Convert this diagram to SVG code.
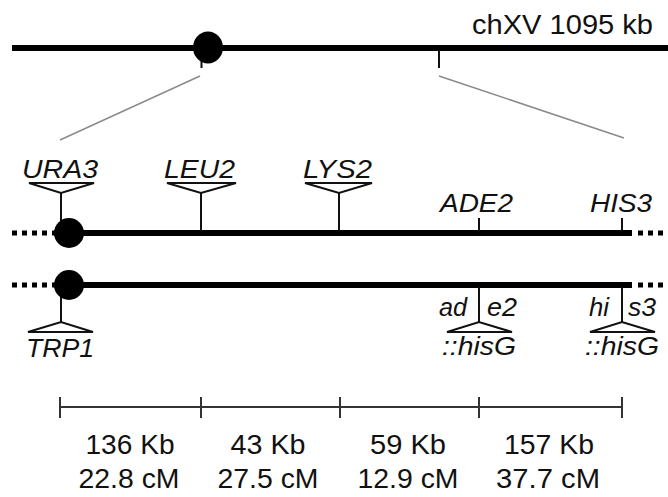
<svg xmlns="http://www.w3.org/2000/svg" width="668" height="497" viewBox="0 0 668 497">
<style>
.chr{stroke:#000;stroke-width:6;fill:none}
.dot{stroke:#000;stroke-width:5;stroke-dasharray:5 5;fill:none}
.stem{stroke:#111;stroke-width:2;fill:none}
.tri{stroke:#111;stroke-width:2;fill:#fff;stroke-linejoin:miter}
.zoom{stroke:#8a8a8a;stroke-width:1.5;fill:none}
.scale{stroke:#333;stroke-width:2;fill:none}
.cen{fill:#000}
text{font-family:"Liberation Sans",Arial,sans-serif;fill:#111}
.g{font-size:26px;font-style:italic}
.s{font-size:27px;text-anchor:middle}
.t{font-size:27px;text-anchor:end}
</style>
<rect width="668" height="497" fill="#fff"/>
<g id="chromosome-XV">
<line class="chr" x1="12" y1="48" x2="668" y2="48"/>
<line class="stem" x1="201.5" y1="50" x2="201.5" y2="68"/>
<line class="stem" x1="439" y1="50" x2="439" y2="68"/>
<ellipse class="cen" cx="208" cy="47.5" rx="15" ry="16"/>
<text class="t" x="653" y="34" textLength="181" lengthAdjust="spacingAndGlyphs">chXV 1095 kb</text>
</g>
<g id="zoom-lines">
<line class="zoom" x1="200" y1="76" x2="60" y2="140"/>
<line class="zoom" x1="439" y1="76" x2="624" y2="138"/>
</g>
<g id="strain-1">
<line class="dot" x1="12" y1="233" x2="60" y2="233"/>
<line class="chr" x1="62" y1="233" x2="632" y2="233"/>
<line class="dot" x1="638" y1="233" x2="668" y2="233"/>
<line class="stem" x1="61" y1="193" x2="61" y2="233"/>
<circle class="cen" cx="69" cy="233" r="15"/>
</g>
<g id="strain-2">
<line class="dot" x1="12" y1="285" x2="60" y2="285"/>
<line class="chr" x1="62" y1="285" x2="632" y2="285"/>
<line class="dot" x1="638" y1="285" x2="668" y2="285"/>
<line class="stem" x1="61" y1="285" x2="61" y2="322"/>
<circle class="cen" cx="69" cy="285" r="15"/>
</g>
<g id="URA3">
<polygon class="tri" points="29,183 94,183 61,193"/>
<text class="g" x="22" y="178" textLength="76" lengthAdjust="spacingAndGlyphs">URA3</text>
</g>
<g id="LEU2">
<line class="stem" x1="201" y1="193" x2="201" y2="231"/>
<polygon class="tri" points="167,183 236,183 201,193"/>
<text class="g" x="164" y="178" textLength="71" lengthAdjust="spacingAndGlyphs">LEU2</text>
</g>
<g id="LYS2">
<line class="stem" x1="339" y1="193" x2="339" y2="231"/>
<polygon class="tri" points="305,183 372,183 339,193"/>
<text class="g" x="303" y="178" textLength="69" lengthAdjust="spacingAndGlyphs">LYS2</text>
</g>
<g id="ADE2">
<line class="stem" x1="479" y1="218" x2="479" y2="231"/>
<text class="g" x="440" y="212" textLength="73" lengthAdjust="spacingAndGlyphs">ADE2</text>
</g>
<g id="HIS3">
<line class="stem" x1="622" y1="218" x2="622" y2="231"/>
<text class="g" x="590" y="212" textLength="62" lengthAdjust="spacingAndGlyphs">HIS3</text>
</g>
<g id="TRP1">
<polygon class="tri" points="28,332 93,332 61,322"/>
<text class="g" x="26" y="357" textLength="68" lengthAdjust="spacingAndGlyphs">TRP1</text>
</g>
<g id="ade2-hisG">
<line class="stem" x1="479" y1="287" x2="479" y2="322"/>
<polygon class="tri" points="447,332 512,332 479,322"/>
<text class="g" x="439" y="316" textLength="28" lengthAdjust="spacingAndGlyphs">ad</text>
<text class="g" x="487" y="316" textLength="30" lengthAdjust="spacingAndGlyphs">e2</text>
<text class="g" x="442" y="355" textLength="74" lengthAdjust="spacingAndGlyphs">::hisG</text>
</g>
<g id="his3-hisG">
<line class="stem" x1="622" y1="287" x2="622" y2="322"/>
<polygon class="tri" points="590,332 655,332 622,322"/>
<text class="g" x="589" y="316" textLength="20" lengthAdjust="spacingAndGlyphs">hi</text>
<text class="g" x="628" y="316" textLength="28" lengthAdjust="spacingAndGlyphs">s3</text>
<text class="g" x="585" y="355" textLength="74" lengthAdjust="spacingAndGlyphs">::hisG</text>
</g>
<g id="scale-bar">
<line class="scale" x1="60" y1="407" x2="622" y2="407"/>
<line class="scale" x1="60" y1="397" x2="60" y2="418"/>
<line class="scale" x1="201" y1="397" x2="201" y2="418"/>
<line class="scale" x1="340" y1="397" x2="340" y2="418"/>
<line class="scale" x1="479" y1="397" x2="479" y2="418"/>
<line class="scale" x1="622" y1="397" x2="622" y2="418"/>
<text class="s" x="130" y="454" textLength="89" lengthAdjust="spacingAndGlyphs">136 Kb</text>
<text class="s" x="129" y="488" textLength="101" lengthAdjust="spacingAndGlyphs">22.8 cM</text>
<text class="s" x="268" y="454" textLength="75" lengthAdjust="spacingAndGlyphs">43 Kb</text>
<text class="s" x="268" y="488" textLength="101" lengthAdjust="spacingAndGlyphs">27.5 cM</text>
<text class="s" x="408" y="454" textLength="76" lengthAdjust="spacingAndGlyphs">59 Kb</text>
<text class="s" x="408" y="488" textLength="101" lengthAdjust="spacingAndGlyphs">12.9 cM</text>
<text class="s" x="549" y="454" textLength="90" lengthAdjust="spacingAndGlyphs">157 Kb</text>
<text class="s" x="548" y="488" textLength="104" lengthAdjust="spacingAndGlyphs">37.7 cM</text>
</g>
</svg>
